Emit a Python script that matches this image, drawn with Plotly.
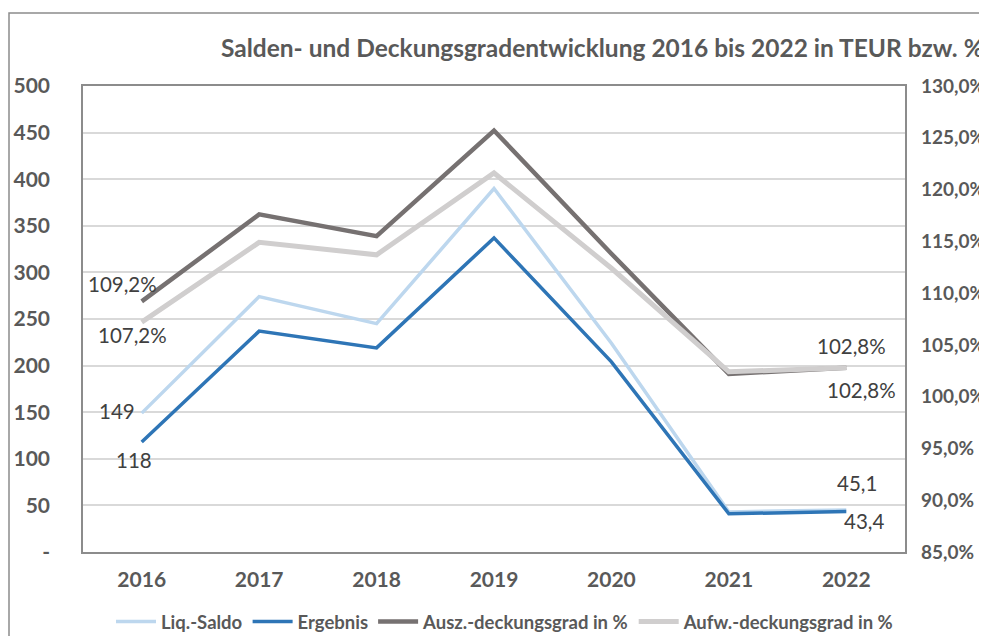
import plotly.graph_objects as go

years = ["2016", "2017", "2018", "2019", "2020", "2021", "2022"]
liq_saldo = [149, 274, 245, 390, 224, 43, 45.1]
ergebnis = [118, 237, 219, 337, 204, 41, 43.4]
ausz_grad = [109.2, 117.6, 115.5, 125.7, 113.8, 102.2, 102.8]
aufw_grad = [107.2, 114.9, 113.7, 121.6, 112.4, 102.4, 102.8]

left_tickvals = [0, 50, 100, 150, 200, 250, 300, 350, 400, 450, 500]
left_ticktext = ["-", "50", "100", "150", "200", "250", "300", "350", "400", "450", "500"]
right_tickvals = [85, 90, 95, 100, 105, 110, 115, 120, 125, 130]
right_ticktext = ["85,0%", "90,0%", "95,0%", "100,0%", "105,0%", "110,0%",
                  "115,0%", "120,0%", "125,0%", "130,0%"]

title_text = "Salden- und Deckungsgradentwicklung 2016 bis 2022 in TEUR bzw. %"

# data labels: (series, index, text, xshift, yshift)
labels = [
    ("ausz", 0, "109,2%", -19, 17),
    ("aufw", 0, "107,2%", -9, -13),
    ("liq", 0, "149", -25, 2),
    ("erg", 0, "118", -8, -18),
    ("ausz", 6, "102,8%", 5, 22),
    ("aufw", 6, "102,8%", 15, -22),
    ("liq", 6, "45,1", 11, 27),
    ("erg", 6, "43,4", 18, -9),
]

FONT = "Lato"
TICK_COLOR = "#595959"
LABEL_COLOR = "#404040"

# the page body adds an 8px offset; the figure is sized to fill the rest
OFF = 8
W, H = 987 - OFF, 636 - OFF
L, R, T, B = 83 - OFF, 905 - OFF, 86 - OFF, 552 - OFF
PW, PH = R - L, B - T

def px_x(page_px):
    return (page_px - OFF - L) / PW

def px_y(page_py):
    return (B - (page_py - OFF)) / PH

xpos = list(range(len(years)))

fig = go.Figure()
fig.add_trace(go.Scatter(x=xpos, y=liq_saldo, name="Liq.-Saldo", mode="lines",
                         line=dict(color="#BDD7EE", width=3.5), yaxis="y"))
fig.add_trace(go.Scatter(x=xpos, y=ergebnis, name="Ergebnis", mode="lines",
                         line=dict(color="#2E75B6", width=3.5), yaxis="y"))
fig.add_trace(go.Scatter(x=xpos, y=ausz_grad, name="Ausz.-deckungsgrad in %", mode="lines",
                         line=dict(color="#767171", width=4.5), yaxis="y2"))
fig.add_trace(go.Scatter(x=xpos, y=aufw_grad, name="Aufw.-deckungsgrad in %", mode="lines",
                         line=dict(color="#D0CECE", width=5), yaxis="y2"))

series = {"liq": (liq_saldo, "y"), "erg": (ergebnis, "y"),
          "ausz": (ausz_grad, "y2"), "aufw": (aufw_grad, "y2")}
for key, idx, txt, dx, dy in labels:
    vals, yref = series[key]
    fig.add_annotation(x=xpos[idx], y=vals[idx], xref="x", yref=yref, text=txt,
                       showarrow=False, xshift=dx, yshift=dy,
                       font=dict(family=FONT, size=20.5, color=LABEL_COLOR))

fig.add_annotation(text="<b>" + title_text + "</b>", xref="paper", yref="paper",
                   x=px_x(986), y=px_y(48), xanchor="right", yanchor="middle",
                   showarrow=False, font=dict(family=FONT, size=24.5, color=TICK_COLOR))

# outer chart frame
fig.add_shape(type="rect", xref="paper", yref="paper",
              x0=px_x(OFF + 1), x1=px_x(1100), y0=px_y(700), y1=px_y(13),
              line=dict(color="#8C8C8C", width=1.5), layer="below")

fig.update_layout(
    width=W, height=H,
    margin=dict(l=L, r=W - R, t=T, b=H - B, autoexpand=False),
    paper_bgcolor="white", plot_bgcolor="white",
    showlegend=True,
    legend=dict(orientation="h", xref="container", yref="container",
                x=(505 - OFF) / W, xanchor="center", y=1 - (622 - OFF) / H,
                yanchor="middle", font=dict(family=FONT, size=18.5, color=TICK_COLOR, weight="bold"),
                itemwidth=40, tracegroupgap=0),
    xaxis=dict(range=[-0.5, 6.5], tickvals=xpos, ticktext=years,
               showgrid=False, showline=True, mirror=True, zeroline=False,
               linecolor="#8C8C8C", linewidth=1.5, ticks="",
               tickfont=dict(family=FONT, size=21, color=TICK_COLOR, weight="bold"),
               ticklabelstandoff=8),
    yaxis=dict(range=[0, 500], tickvals=left_tickvals, ticktext=left_ticktext,
               showgrid=True, gridcolor="#D9D9D9", gridwidth=1.5,
               showline=True, mirror=True, linecolor="#8C8C8C", linewidth=1.5,
               ticks="", ticklabelstandoff=27, zeroline=False,
               tickfont=dict(family=FONT, size=21, color=TICK_COLOR, weight="bold")),
    yaxis2=dict(range=[85, 130], tickvals=right_tickvals, ticktext=right_ticktext,
                overlaying="y", side="right", showgrid=False, zeroline=False,
                showline=False, ticks="", ticklabelstandoff=15,
                tickfont=dict(family=FONT, size=19, color=TICK_COLOR, weight="bold")),
)

fig.write_html("out.html")
